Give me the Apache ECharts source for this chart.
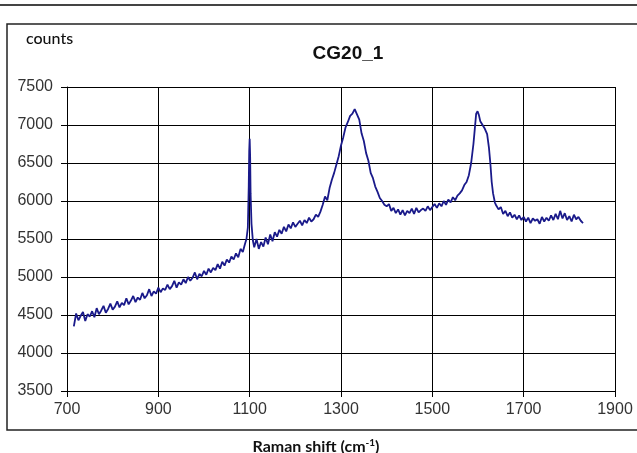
<!DOCTYPE html>
<html>
<head>
<meta charset="utf-8">
<script src="https://cdn.jsdelivr.net/npm/echarts@6/dist/echarts.min.js"></script>
<style>
html,body{margin:0;padding:0;background:#fff;}
#chart{width:637px;height:453px;}
</style>
</head>
<body>
<div id="chart"></div>
<script>
const chartTitle = 'CG20_1';
const yAxisLabel = 'counts';
const xTicks = [700, 900, 1100, 1300, 1500, 1700, 1900];
const yTicks = [3500, 4000, 4500, 5000, 5500, 6000, 6500, 7000, 7500];

const shifts = [
715,720,725,730,735,740,745,750,755,760,765,770,775,780,785,790,795,800,805,810,
815,820,825,830,835,840,845,850,855,860,865,870,875,880,885,890,895,900,905,910,
915,920,925,930,935,940,945,950,955,960,965,970,975,980,985,990,995,1000,1005,1010,
1015,1020,1025,1030,1035,1040,1045,1050,1055,1060,1065,1070,1075,1080,1085,1090,1093,1096,1098,1099,
1100,1101,1102,1104,1107,1110,1115,1120,1125,1130,1135,1140,1145,1150,1155,1160,1165,1170,1175,1180,
1185,1190,1195,1200,1205,1210,1215,1220,1225,1230,1235,1240,1245,1250,1255,1260,1265,1270,1275,1280,
1285,1290,1295,1300,1305,1310,1315,1320,1325,1330,1335,1340,1345,1350,1355,1360,1365,1370,1375,1380,
1385,1390,1395,1400,1405,1410,1415,1420,1425,1430,1435,1440,1445,1450,1455,1460,1465,1470,1475,1480,
1485,1490,1495,1500,1505,1510,1515,1520,1525,1530,1535,1540,1545,1550,1555,1560,1565,1570,1575,1580,
1585,1590,1593,1596,1599,1602,1605,1610,1615,1620,1624,1627,1630,1633,1637,1640,1645,1650,1655,1660,
1665,1670,1675,1680,1685,1690,1695,1700,1705,1710,1715,1720,1725,1730,1735,1740,1745,1750,1755,1760,
1765,1770,1775,1780,1785,1790,1795,1800,1805,1810,1815,1820,1825,1830
];
const counts = [
4350,4520,4430,4490,4540,4420,4510,4480,4550,4470,4590,4510,4560,4620,4530,4580,4650,4570,4610,4680,
4600,4660,4630,4720,4640,4690,4750,4670,4730,4700,4790,4720,4760,4840,4750,4810,4780,4860,4800,4850,
4830,4900,4840,4880,4950,4860,4930,4900,4970,4920,5000,4950,4990,5060,4970,5040,5010,5080,5030,5110,
5060,5120,5090,5170,5110,5200,5150,5230,5190,5270,5230,5310,5260,5370,5330,5440,5500,5650,6200,6650,
6820,6600,6100,5700,5480,5390,5500,5370,5460,5400,5520,5430,5560,5470,5590,5530,5620,5570,5660,5600,
5690,5640,5720,5660,5700,5740,5680,5750,5710,5780,5730,5760,5820,5790,5860,5950,6060,6010,6170,6280,
6370,6480,6590,6730,6840,6970,7040,7120,7150,7210,7140,7070,6890,6790,6630,6530,6370,6300,6190,6120,
6040,6000,5950,5930,5960,5870,5910,5840,5890,5820,5880,5810,5870,5840,5900,5830,5910,5850,5880,5900,
5870,5930,5880,5920,5960,5910,5970,5930,6000,5950,6020,5980,6050,6010,6070,6100,6140,6210,6250,6340,
6500,6750,6950,7150,7180,7130,7050,7000,6950,6880,6700,6500,6250,6100,5980,5940,5890,5920,5830,5870,
5800,5850,5780,5820,5760,5810,5750,5790,5730,5780,5710,5770,5740,5760,5700,5790,5730,5780,5740,5810,
5750,5830,5760,5870,5770,5840,5750,5800,5730,5820,5760,5790,5740,5710
];

const seriesData = shifts.map((s, i) => [s, counts[i]]);

const chart = echarts.init(document.getElementById('chart'), null, {renderer: 'canvas'});
chart.setOption({
  animation: false,
  backgroundColor: '#fff',
  title: {
    text: chartTitle,
    left: 343, top: 39, textAlign: 'center',
    textStyle: {fontFamily: 'Liberation Sans', fontWeight: 'bold', fontSize: 19, color: '#111'}
  },
  graphic: [
    {type: 'line', shape: {x1: 0, y1: 5, x2: 637, y2: 5}, style: {stroke: '#444', lineWidth: 2}},
    {type: 'rect', shape: {x: 7, y: 24, width: 640, height: 406}, style: {fill: 'none', stroke: '#222', lineWidth: 1.5}},
    {type: 'text', left: 26, top: 31, style: {text: yAxisLabel, font: '500 16px Lato', fill: '#111'}}
  ],
  grid: {left: 67, right: 22, top: 87, bottom: 62, containLabel: false, outerBoundsMode: 'none'},
  xAxis: {
    type: 'value', min: xTicks[0], max: xTicks[xTicks.length - 1], interval: 200,
    name: '{a|Raman shift (cm}{s|-1}{a|)}',
    nameLocation: 'middle', nameGap: 47,
    nameTextStyle: {
      padding: [0, 50, 0, 0],
      rich: {
        a: {fontFamily: 'Lato', fontSize: 16, fontWeight: 'bold', color: '#111'},
        s: {fontFamily: 'Lato', fontSize: 10, fontWeight: 'bold', color: '#111', padding: [0, 0, 8, 0]}
      }
    },
    axisLine: {lineStyle: {color: '#000', width: 1}},
    axisTick: {show: true, length: 6, lineStyle: {color: '#000'}},
    axisLabel: {fontFamily: 'Liberation Sans', fontSize: 16, color: '#333', margin: 11, formatter: v => String(v)},
    splitLine: {show: true, lineStyle: {color: '#000', width: 1}}
  },
  yAxis: {
    type: 'value', min: yTicks[0], max: yTicks[yTicks.length - 1], interval: 500,
    axisLine: {show: true, lineStyle: {color: '#000', width: 1}},
    axisTick: {show: true, length: 6, lineStyle: {color: '#000'}},
    axisLabel: {fontFamily: 'Liberation Sans', fontSize: 16, color: '#333', margin: 14, formatter: v => String(v)},
    splitLine: {show: true, lineStyle: {color: '#000', width: 1}}
  },
  series: [{
    type: 'line', data: seriesData, showSymbol: false, symbol: 'none',
    lineStyle: {color: '#1a1a8a', width: 1.8}
  }]
});
</script>
</body>
</html>
